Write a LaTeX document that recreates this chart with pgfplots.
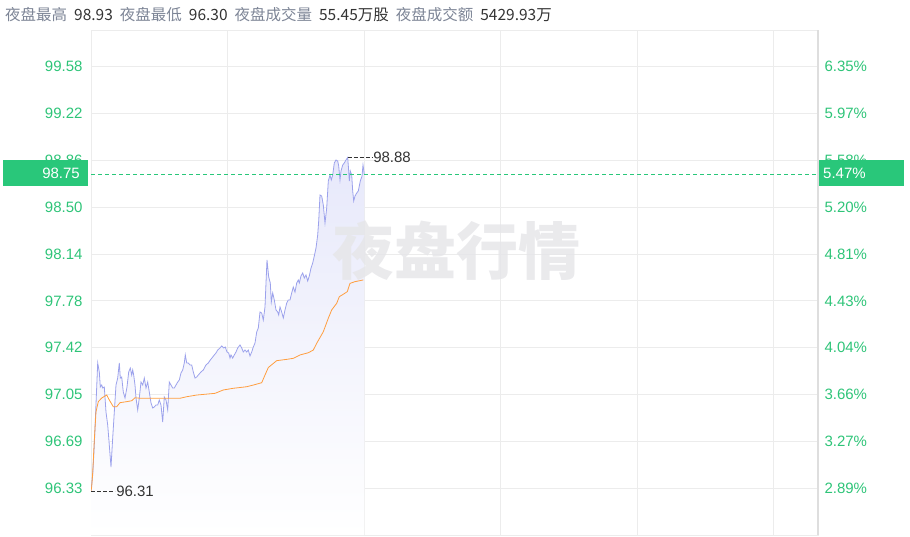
\documentclass[border=0pt]{standalone}
\usepackage{pgfplots}
\pgfplotsset{compat=1.18}
\usepackage{pgfplotstable}
\usepackage{fontspec}
\setmainfont{Liberation Sans}
\newfontfamily\cjk{Noto Sans CJK SC}
\definecolor{gridc}{RGB}{236,236,236}
\definecolor{borderc}{RGB}{222,222,222}
\definecolor{tickg}{RGB}{46,196,120}
\definecolor{boxg}{RGB}{41,199,122}
\definecolor{pricec}{RGB}{156,162,236}
\definecolor{avgc}{RGB}{255,158,64}
\definecolor{labg}{RGB}{125,133,150}
\definecolor{dark}{RGB}{51,51,51}
\definecolor{wm}{RGB}{230,230,233}

\pgfplotstableread{
x y
0 96.31
1.7 96.433
3.3 96.664
6.7 97.296
8.3 97.227
9.3 97.111
10.7 97.126
11.7 97.103
13.3 97.111
15 96.918
16.7 96.818
18.3 96.664
20 96.494
21.7 96.718
23.3 96.918
25 97.126
26.7 97.180
28.3 97.296
29.3 97.180
30.7 97.188
32.3 97.072
34 97.026
36 97.111
37.7 97.227
39.3 97.257
40.7 97.203
41.7 97.242
42.7 97.203
44 97.126
45 97.026
46.7 96.934
48.3 97.026
50 97.149
51.7 97.126
53.3 97.180
55 97.103
56.7 97.149
58.3 97.072
60 96.988
61.7 96.949
63.3 96.957
65 96.972
66.7 96.972
68.3 97.011
70 96.972
71.7 96.841
73.3 97.034
75 97.011
76.7 96.934
78.3 97.149
80 97.126
81.7 97.103
83.3 97.103
85 97.126
86.7 97.149
88.3 97.165
90 97.219
91.7 97.242
93.3 97.296
94.3 97.358
95.7 97.296
97.3 97.296
99 97.281
100.7 97.281
102.3 97.227
104 97.180
105.7 97.188
107.3 97.203
110 97.227
112.3 97.242
115 97.281
117.3 97.296
119.3 97.319
121.7 97.342
123.3 97.358
125 97.373
126.7 97.396
129 97.412
130.7 97.427
132.7 97.412
134.3 97.419
136 97.381
137.7 97.373
139 97.334
140 97.358
141.7 97.334
143.3 97.358
145 97.381
146.7 97.412
149 97.435
150.7 97.412
152.3 97.381
154 97.396
155.7 97.381
157.3 97.396
159 97.350
160.7 97.381
162.3 97.419
164 97.450
165.7 97.535
167.3 97.566
169 97.689
170.7 97.681
172.3 97.627
174 97.728
175 97.913
176 98.090
177.7 97.959
179.3 97.913
180.3 97.766
181.7 97.836
183.3 97.782
185 97.705
186.7 97.689
187.7 97.666
189 97.728
190.7 97.689
192.3 97.643
194 97.705
195.7 97.758
197.3 97.782
199 97.782
200.7 97.836
202.3 97.882
204 97.843
205.7 97.913
207.3 97.936
208.3 97.913
210 97.967
211.7 97.990
213.3 97.951
215 97.974
216.7 97.928
218.3 97.967
220 98.028
221.7 98.067
223.3 98.121
225 98.182
226.7 98.283
227.7 98.391
229 98.591
230.7 98.583
232.3 98.514
234 98.375
235.7 98.491
237.3 98.699
239 98.745
240.3 98.707
241.7 98.745
243.3 98.838
245 98.861
246.7 98.853
247.7 98.815
249 98.707
250 98.776
251.7 98.822
253.3 98.838
255 98.861
256.7 98.88
257.7 98.776
258.3 98.699
259.3 98.776
260.7 98.745
261.7 98.622
262.7 98.545
264 98.583
265.7 98.606
267.3 98.622
269.3 98.699
271 98.737
272 98.822
273.3 98.75
}\pricedata

\pgfplotstableread{
x y
0 96.31
0.7 96.342
1.7 96.45
3.3 96.70
5 96.92
7.3 96.998
10.7 97.026
15.7 97.049
18.3 97.011
22.3 96.959
25.7 96.959
29 96.990
35.7 96.998
40.7 97.005
44 97.028
49 97.024
72.3 97.024
89 97.024
95.7 97.036
105.7 97.049
124 97.062
132.3 97.088
142.3 97.101
155.7 97.113
162.3 97.126
170.7 97.144
174 97.203
177.3 97.261
185.7 97.314
195.7 97.324
202.3 97.332
209 97.358
217.3 97.375
222.3 97.396
225.7 97.448
232.3 97.537
237.3 97.641
240.7 97.705
245.7 97.756
248.3 97.807
252.3 97.826
256.3 97.846
259 97.910
264 97.923
272.3 97.936
}\avgdata

\begin{document}
\begin{tikzpicture}[x=1pt,y=1pt]
\path[use as bounding box] (0,0) rectangle (910,536);
% header
\node[anchor=base west, inner sep=0pt, font=\cjk\fontsize{15.5}{17}\selectfont] at (5,515)
 {\textcolor{labg}{夜盘最高}\hspace{7pt}\textcolor{dark}{98.93}\hspace{7pt}\textcolor{labg}{夜盘最低}\hspace{7pt}\textcolor{dark}{96.30}\hspace{7pt}\textcolor{labg}{夜盘成交量}\hspace{7pt}\textcolor{dark}{55.45万股}\hspace{7pt}\textcolor{labg}{夜盘成交额}\hspace{7pt}\textcolor{dark}{5429.93万}};
\begin{axis}[at={(91pt,1pt)}, anchor=south west, width=727pt, height=505pt, scale only axis,
  xmin=0, xmax=727, ymin=95.970, ymax=99.863,
  xtick={0,136.5,273,409.5,546,682.5}, xticklabels={},
  ytick={96.33,96.691,97.052,97.413,97.775,98.136,98.497,98.858,99.219,99.58},
  yticklabels={96.33,96.69,97.05,97.42,97.78,98.14,98.50,98.86,99.22,99.58},
  xmajorgrids, ymajorgrids,
  grid style={draw=gridc, line width=0.8pt},
  axis line style={draw=gridc, line width=0.8pt},
  major tick length=0pt,
  yticklabel style={font=\fontsize{15}{17}\selectfont, text=tickg, anchor=east, xshift=-5pt},
  clip=true]
\addplot[draw=none, top color=pricec!24, bottom color=white, shading angle=0] table {\pricedata} -- (axis cs:273.3,95.97) -- (axis cs:0,95.97) -- cycle;
\node[font=\cjk\bfseries\fontsize{62}{62}\selectfont, text=wm, opacity=0.85] at (axis cs:365,98.165) {夜盘行情};
\addplot[pricec, line width=0.8pt] table {\pricedata};
\addplot[avgc, line width=0.8pt] table {\avgdata};
\draw[boxg, line width=0.8pt, dash pattern=on 4pt off 3pt] (axis cs:0,98.75) -- (axis cs:727,98.75);
\draw[dark, line width=0.6pt, dash pattern=on 4pt off 2pt] (axis cs:256.7,98.88) -- (axis cs:281,98.88)
  node[anchor=west, inner sep=1pt, font=\fontsize{15}{17}\selectfont, text=dark] {98.88};
\draw[dark, line width=0.6pt, dash pattern=on 4pt off 2pt] (axis cs:0,96.31) -- (axis cs:24,96.31)
  node[anchor=west, inner sep=1pt, font=\fontsize{15}{17}\selectfont, text=dark] {96.31};
\end{axis}
\begin{axis}[at={(91pt,1pt)}, anchor=south west, width=727pt, height=505pt, scale only axis,
  xmin=0, xmax=727, ymin=95.970, ymax=99.863,
  hide x axis, axis y line*=right, y axis line style={draw=borderc, line width=1.5pt},
  ytick={96.33,96.691,97.052,97.413,97.775,98.136,98.497,98.858,99.219,99.58},
  yticklabels={2.89\%,3.27\%,3.66\%,4.04\%,4.43\%,4.81\%,5.20\%,5.58\%,5.97\%,6.35\%},
  major tick length=0pt,
  yticklabel style={font=\fontsize{15}{17}\selectfont, text=tickg, anchor=west, xshift=3pt}]
\addplot[draw=none] coordinates {(0,97)};
\end{axis}
% price boxes
\fill[boxg] (3,350) rectangle (88,376);
\node[anchor=east, text=white, font=\fontsize{15}{17}\selectfont, inner sep=0pt] at (80,363) {98.75};
\fill[boxg] (819,350) rectangle (904,376);
\node[anchor=west, text=white, font=\fontsize{15}{17}\selectfont, inner sep=0pt] at (823,363) {5.47\%};
\end{tikzpicture}
\end{document}
